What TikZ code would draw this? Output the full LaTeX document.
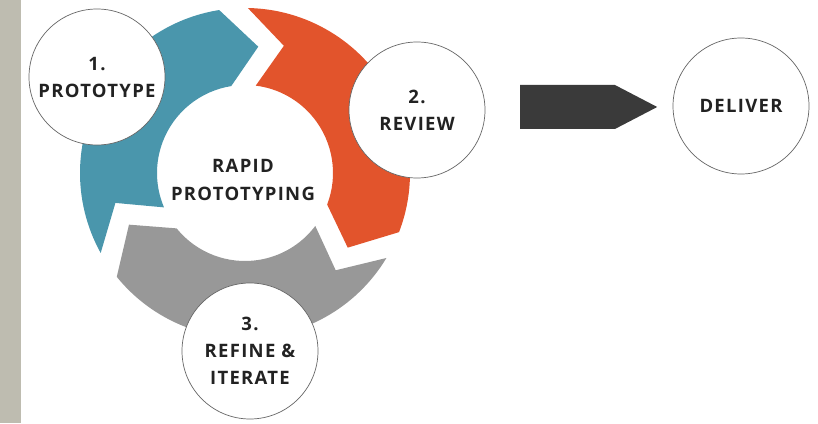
\documentclass[tikz,border=0pt]{standalone}
\usepackage{fontspec}
\setmainfont{Open Sans}[LetterSpace=7]
\usetikzlibrary{shapes.arrows}
\definecolor{sidebar}{RGB}{190,188,176}
\definecolor{ringblue}{RGB}{74,150,172}
\definecolor{ringorange}{RGB}{226,84,44}
\definecolor{ringgray}{RGB}{152,152,152}
\definecolor{arrowdark}{RGB}{58,58,58}
\definecolor{textdark}{RGB}{34,34,34}

\begin{document}
\begin{tikzpicture}[x=1pt,y=1pt]
    \useasboundingbox (0,0) rectangle (818,423);
    \fill[sidebar] (0,0) rectangle (21,423);

    % cycle of three curved arrows
    \begin{scope}[shift={(245,250)}]
        \foreach \col/\t in {ringblue/206,ringorange/86,ringgray/-34}
            \fill[\col] ({\t+3}:165pt) arc[start angle=\t+3, end angle=\t-107, radius=165pt]
                -- ({\t-122}:127pt) -- ({\t-107}:88pt)
                arc[start angle=\t-107, end angle=\t-3, radius=88pt]
                -- ({\t-13}:133pt) -- cycle;
    \end{scope}

    \node[align=center, text=textdark, font=\fontsize{18.5}{28}\selectfont\bfseries] (rapid) at (243,243) {RAPID\\PROTOTYPING};

    \begin{scope}[every node/.style={circle,draw=black!60,line width=0.7pt,fill=white,minimum size=136pt,inner sep=0pt,align=center,text=textdark,font=\fontsize{18.5}{27}\selectfont\bfseries}]
        \node (proto) at (97,346) {1.\\PROTOTYPE};
        \node (review) at (417,313) {2.\\REVIEW};
        \node (refine) at (250,72) {3.\\REFINE \&\\ITERATE};
        \node (deliver) at (741,317) {DELIVER};
    \end{scope}

    \node[single arrow, fill=arrowdark, minimum height=137pt, minimum width=44pt,
          single arrow head extend=0pt, single arrow tip angle=55, inner sep=0pt,
          anchor=tail] (onward) at (520,316) {};
\end{tikzpicture}
\end{document}
